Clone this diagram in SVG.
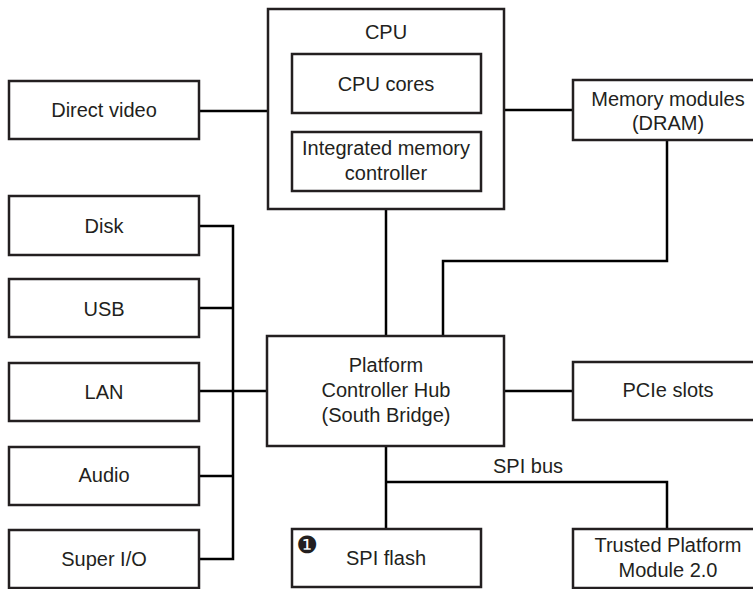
<svg xmlns="http://www.w3.org/2000/svg" width="753" height="589" viewBox="0 0 753 589">
<style>
.box{fill:#fff;stroke:#231f20;stroke-width:2.5}
.ln{fill:none;stroke:#000;stroke-width:2.5}
text{font-family:"Liberation Sans",Arial,sans-serif;font-size:20px;fill:#231f20;text-anchor:middle}
</style>
<rect width="753" height="589" fill="#fff"/>
<g id="connectors">
<path class="ln" d="M199,111H268"/>
<path class="ln" d="M504,110H573"/>
<path class="ln" d="M386,209V337"/>
<path class="ln" d="M667,140V261H443V337"/>
<path class="ln" d="M199,226H233V559H199M199,308H233M199,391H267M199,476H233"/>
<path class="ln" d="M504,391H573"/>
<path class="ln" d="M386,446V529M386,482H667V529"/>
<text x="528" y="473">SPI bus</text>
</g>
<g id="cpu">
<rect class="box" x="268" y="9" width="236" height="200"/>
<text x="386" y="39">CPU</text>
</g>
<g id="cpu-cores">
<rect class="box" x="292" y="54" width="189" height="59"/>
<text x="386" y="91">CPU cores</text>
</g>
<g id="imc">
<rect class="box" x="292" y="132" width="189" height="59"/>
<text x="386" y="155">Integrated memory</text>
<text x="386" y="180">controller</text>
</g>
<g id="direct-video">
<rect class="box" x="9" y="81" width="190" height="58"/>
<text x="104" y="117">Direct video</text>
</g>
<g id="memory">
<rect class="box" x="573" y="80" width="190" height="60"/>
<text x="668" y="106">Memory modules</text>
<text x="668" y="130">(DRAM)</text>
</g>
<g id="disk">
<rect class="box" x="9" y="196" width="190" height="59"/>
<text x="104" y="233">Disk</text>
</g>
<g id="usb">
<rect class="box" x="9" y="279" width="190" height="58"/>
<text x="104" y="316">USB</text>
</g>
<g id="lan">
<rect class="box" x="9" y="363" width="190" height="58"/>
<text x="104" y="399">LAN</text>
</g>
<g id="audio">
<rect class="box" x="9" y="447" width="190" height="58"/>
<text x="104" y="482">Audio</text>
</g>
<g id="super-io">
<rect class="box" x="9" y="530" width="190" height="58"/>
<text x="104" y="566">Super I/O</text>
</g>
<g id="pch">
<rect class="box" x="267" y="336" width="237" height="110"/>
<text x="386" y="372">Platform</text>
<text x="386" y="397">Controller Hub</text>
<text x="386" y="422">(South Bridge)</text>
</g>
<g id="pcie">
<rect class="box" x="573" y="362" width="190" height="58"/>
<text x="668" y="397">PCIe slots</text>
</g>
<g id="spi-flash">
<rect class="box" x="292" y="529" width="189" height="58"/>
<text x="307" y="553" style="font-family:'DejaVu Sans',sans-serif;font-size:24px;fill:#231f20">❶</text>
<text x="386" y="565">SPI flash</text>
</g>
<g id="tpm">
<rect class="box" x="573" y="529" width="190" height="59"/>
<text x="668" y="552">Trusted Platform</text>
<text x="668" y="577">Module 2.0</text>
</g>
</svg>
